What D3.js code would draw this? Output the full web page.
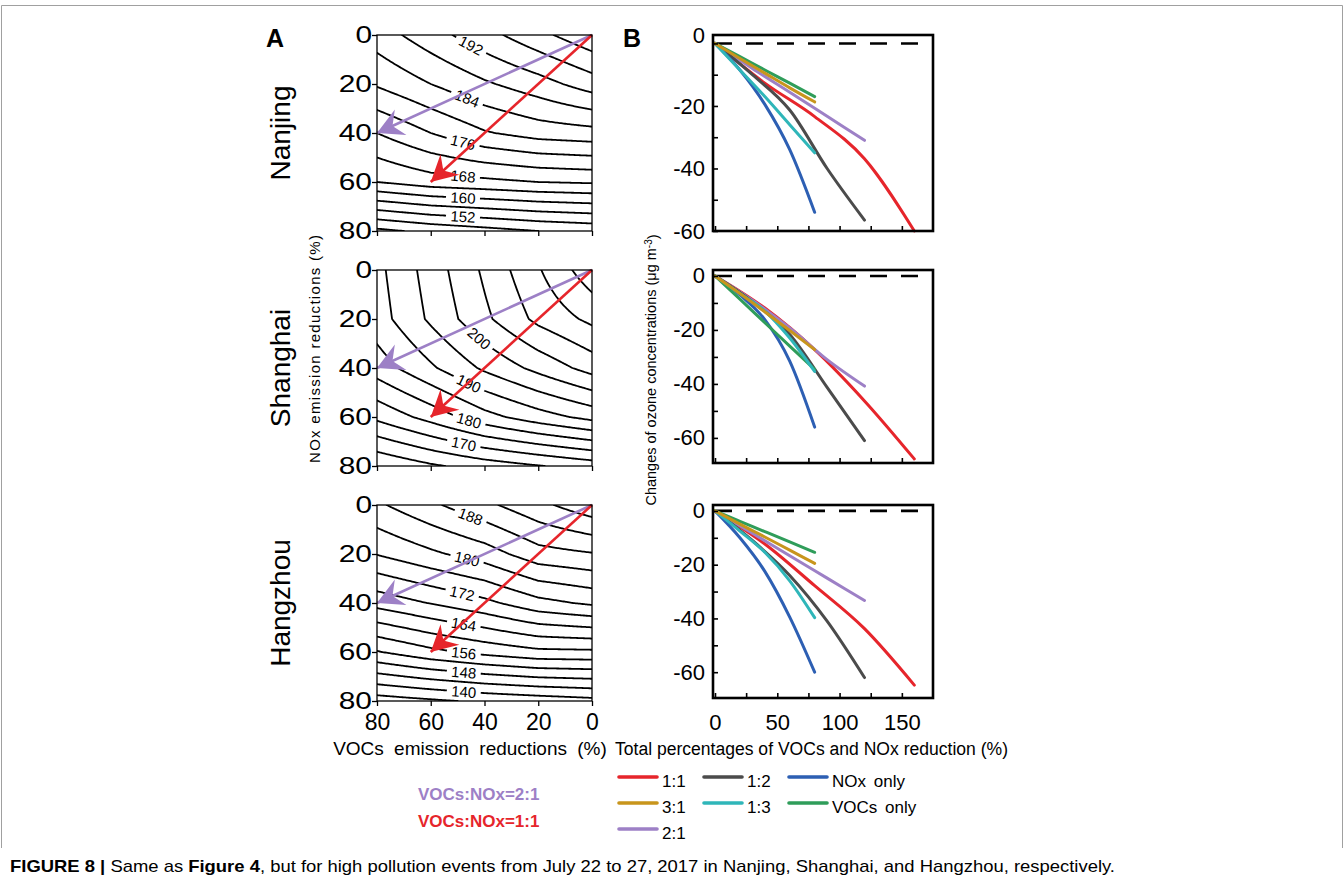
<!DOCTYPE html>
<html>
<head>
<meta charset="utf-8">
<script src="https://cdn.jsdelivr.net/npm/d3@7"></script>
<style>
  body { margin: 0; background: #fff; }
  svg { font-family: "Liberation Sans", Arial, Helvetica, sans-serif; }
</style>
</head>
<body>
<svg id="fig" width="1344" height="895"></svg>
<script>
// ---------------- data ----------------
var vocSteps = [0, 20, 40, 60, 80];   // VOCs emission reduction (%), columns
var noxSteps = [0, 20, 40, 60, 80];   // NOx emission reduction (%), rows
var cities = ["Nanjing", "Shanghai", "Hangzhou"];

// simulated ozone (ug m-3), rows = NOx reduction, cols = VOCs reduction
var nanjingO3 = [
  [203.0, 198.8, 194.5, 190.3, 186.0],
  [194.0, 190.3, 187.4, 184.0, 180.5],
  [182.5, 181.7, 179.6, 176.0, 172.0],
  [168.5, 168.0, 167.0, 166.1, 164.0],
  [149.0, 148.0, 146.5, 145.0, 143.0]
];
var shanghaiO3 = [
  [223.2, 214.5, 205.9, 197.2, 188.6],
  [216.2, 211.3, 203.9, 195.9, 187.7],
  [207.0, 201.5, 195.9, 189.2, 182.4],
  [191.6, 187.8, 183.2, 176.9, 171.2],
  [167.2, 164.7, 162.2, 159.2, 155.4]
];
var hangzhouO3 = [
  [198.7, 194.9, 191.0, 187.2, 183.3],
  [187.7, 186.4, 182.0, 179.2, 176.2],
  [176.7, 174.7, 170.9, 168.2, 165.4],
  [159.2, 159.0, 157.2, 154.9, 151.7],
  [138.7, 137.7, 136.7, 135.3, 133.9]
];

var nanjingLevels = [144, 148, 152, 156, 160, 164, 168, 172, 176, 180, 184, 188, 192, 196, 200];
var shanghaiLevels = [160, 165, 170, 175, 180, 185, 190, 195, 200, 205, 210, 215, 220];
var hangzhouLevels = [136, 140, 144, 148, 152, 156, 160, 164, 168, 172, 176, 180, 184, 188, 192, 196];

var nanjingLabels = [192, 184, 176, 168, 160, 152];
var nanjingLabelVoc = [45, 46.5, 48, 48, 48, 48];
var shanghaiLabels = [200, 190, 180, 170];
var shanghaiLabelVoc = [42, 45.8, 45.8, 47.7];
var hangzhouLabels = [188, 180, 172, 164, 156, 148, 140];
var hangzhouLabelVoc = [45.2, 46.5, 48.3, 47.7, 47.7, 47.7, 47.7];

// reduction paths drawn on panel A: [VOCs %, NOx %]
var arrowNames = ["VOCs:NOx=2:1", "VOCs:NOx=1:1"];
var arrowEnds = [[80, 40], [60, 60]];
var arrowColors = ["#9d80c6", "#e6252b"];

// panel B: change of ozone vs total reduction percentage
var ratioNames = ["1:1", "3:1", "2:1", "1:2", "1:3", "NOx only", "VOCs only"];
var ratioColors = ["#e6252b", "#c8951c", "#9d80c6", "#4b4b4b", "#2fb6b9", "#2d5fb3", "#2f9d5a"];
var ratioTotals = [
  [0, 40, 80, 120, 160],
  [0, 20, 40, 60, 80],
  [0, 30, 60, 90, 120],
  [0, 30, 60, 90, 120],
  [0, 20, 40, 60, 80],
  [0, 20, 40, 60, 80],
  [0, 20, 40, 60, 80]
];
var nanjingChange = [
  [0, -12.7, -23.4, -36.9, -60],
  [0, -4.8, -9.5, -14.2, -18.7],
  [0, -8, -15.6, -23.3, -31],
  [0, -10, -21.3, -40, -56.5],
  [0, -8.5, -17, -26, -35],
  [0, -8.5, -19.5, -34, -54],
  [0, -4.2, -8.5, -12.7, -17]
];
var shanghaiChange = [
  [0, -11.9, -27.3, -46.3, -67.8],
  [0, -6.5, -13.3, -20.2, -27.3],
  [0, -9, -19.3, -31, -40.8],
  [0, -9.5, -21.7, -41.3, -61],
  [0, -6.5, -13, -23, -35.4],
  [0, -7, -16.2, -31.6, -56],
  [0, -8.6, -17.3, -26, -34.6]
];
var hangzhouChange = [
  [0, -12.3, -27.8, -43.8, -64.8],
  [0, -4.9, -9.7, -14.6, -19.5],
  [0, -8.3, -16.7, -25, -33.3],
  [0, -11, -24, -41, -62],
  [0, -7.5, -15.4, -26, -39.7],
  [0, -10, -22.5, -39.5, -60],
  [0, -3.85, -7.7, -11.55, -15.4]
];

var panelATicks = [0, 20, 40, 60, 80];
var panelBYTicks = [0, -10, -20, -30, -40, -50, -60];
var panelBXTicks = [0, 25, 50, 75, 100, 125, 150];

// ---------------- layout ----------------
var svg = d3.select('#fig');
var defs = svg.append('defs');
svg.append('rect').attr('width', 1344).attr('height', 895).attr('fill', '#fff');

// figure frame
svg.append('path')
   .attr('d', 'M1.5,848 V5.5 H1342.5 V848')
   .attr('fill', 'none').attr('stroke', '#a0a0a0').attr('stroke-width', 1);

var rowTop = [35, 270, 505];
var rowBottomA = [231, 466, 701];
var rowBottomB = [231, 463, 698];
var yDomainB = [[2.7, -60], [2.2, -69.3], [2.2, -69.6]];
var grids = [nanjingO3, shanghaiO3, hangzhouO3];
var levelSets = [nanjingLevels, shanghaiLevels, hangzhouLevels];
var labelSets = [nanjingLabels, shanghaiLabels, hangzhouLabels];
var labelVocSets = [nanjingLabelVoc, shanghaiLabelVoc, hangzhouLabelVoc];
var changeSets = [nanjingChange, shanghaiChange, hangzhouChange];

var xA = d3.scaleLinear().domain([80, 0]).range([377, 592]);
var xB = d3.scaleLinear().domain([-1.6, 175]).range([713, 933]);

// bilinear lookup in the 20% grid
function field(grid, v, n) {
  var fi = Math.max(0, Math.min(80, v)) / 20, fj = Math.max(0, Math.min(80, n)) / 20;
  var i = Math.min(3, Math.floor(fi)), j = Math.min(3, Math.floor(fj));
  var tx = fi - i, ty = fj - j;
  return grid[j][i] * (1 - tx) * (1 - ty) + grid[j][i + 1] * tx * (1 - ty) +
         grid[j + 1][i] * (1 - tx) * ty + grid[j + 1][i + 1] * tx * ty;
}

// arrow heads
arrowColors.forEach(function(c, k) {
  defs.append('marker')
      .attr('id', 'head' + k)
      .attr('markerUnits', 'userSpaceOnUse')
      .attr('viewBox', '-28 -15 30 30')
      .attr('refX', 0).attr('refY', 0)
      .attr('markerWidth', 30).attr('markerHeight', 30)
      .attr('orient', 'auto')
      .append('path')
      .attr('d', 'M0,0 L-26,-14 L-17,0 L-26,14 Z')
      .attr('fill', c);
});

var step = 0.5, start = -2, size = Math.round(84 / step) + 1;

cities.forEach(function(city, r) {
  var grid = grids[r];
  var yA = d3.scaleLinear().domain([0, 80]).range([rowTop[r], rowBottomA[r]]);

  // ---------- panel A: contours ----------
  defs.append('clipPath').attr('id', 'clipA' + r)
      .append('rect')
      .attr('x', xA(80)).attr('y', yA(0))
      .attr('width', xA(0) - xA(80)).attr('height', yA(80) - yA(0));

  var values = new Array(size * size);
  for (var j = 0; j < size; j++) {
    for (var i = 0; i < size; i++) {
      values[j * size + i] = field(grid, start + i * step, start + j * step);
    }
  }
  var contours = d3.contours().size([size, size]).thresholds(levelSets[r])(values);
  var proj = d3.geoTransform({
    point: function(cx, cy) {
      this.stream.point(xA(start + (cx - 0.5) * step), yA(start + (cy - 0.5) * step));
    }
  });
  var geoPath = d3.geoPath(proj);

  var layer = svg.append('g').attr('clip-path', 'url(#clipA' + r + ')');
  layer.selectAll('.contour')
       .data(contours)
       .join('path')
       .classed('contour', true)
       .attr('d', geoPath)
       .attr('fill', 'none')
       .attr('stroke', '#000')
       .attr('stroke-width', 1.8)
       .attr('stroke-linejoin', 'round');

  // contour labels
  labelSets[r].forEach(function(level, k) {
    var v = labelVocSets[r][k];
    var n = 0;
    for (var t = 0; t <= 80; t += 0.05) {
      if (field(grid, v, t) <= level) { n = t; break; }
    }
    var gv = field(grid, v + 0.5, n) - field(grid, v - 0.5, n);
    var gn = field(grid, v, n + 0.5) - field(grid, v, n - 0.5);
    var gx = gv / (xA(1) - xA(0)), gy = gn / (yA(1) - yA(0));
    var tx = -gy, ty = gx;
    if (tx < 0) { tx = -tx; ty = -ty; }
    var ang = Math.atan2(ty, tx) * 180 / Math.PI;
    var g = layer.append('g')
                 .attr('transform', 'translate(' + xA(v) + ',' + yA(n) + ') rotate(' + ang + ')');
    g.append('rect').attr('x', -17).attr('y', -8).attr('width', 34).attr('height', 16).attr('fill', '#fff');
    g.append('text')
     .attr('text-anchor', 'middle').attr('dy', '0.36em')
     .style('font-size', '15px')
     .text(level);
  });

  // reduction arrows
  arrowEnds.forEach(function(e, k) {
    svg.append('line')
       .attr('x1', xA(0)).attr('y1', yA(0))
       .attr('x2', xA(e[0])).attr('y2', yA(e[1]))
       .attr('stroke', arrowColors[k])
       .attr('stroke-width', 2.6)
       .attr('marker-end', 'url(#head' + k + ')');
  });

  // frame + axes
  svg.append('rect')
     .attr('x', xA(80)).attr('y', yA(0))
     .attr('width', xA(0) - xA(80)).attr('height', yA(80) - yA(0))
     .attr('fill', 'none').attr('stroke', '#000').attr('stroke-width', 1.3);

  var axL = svg.append('g').attr('transform', 'translate(' + xA(80) + ',0)')
               .call(d3.axisLeft(yA).tickValues(panelATicks).tickSize(5).tickPadding(0));
  axL.select('.domain').remove();
  axL.selectAll('line').attr('stroke-width', 1.3);
  axL.selectAll('text')
     .attr('x', 0)
     .attr('transform', 'translate(-5,0) scale(1.3,1)')
     .style('font-size', '23px').attr('fill', '#000');

  var axBot = svg.append('g').attr('transform', 'translate(0,' + yA(80) + ')')
                 .call(d3.axisBottom(xA).tickValues(panelATicks).tickSize(5).tickPadding(8));
  axBot.select('.domain').remove();
  axBot.selectAll('line').attr('stroke-width', 1.3);
  axBot.selectAll('text').style('font-size', '23px').attr('fill', '#000');
  if (r < 2) axBot.selectAll('text').remove();

  // city name
  svg.append('text')
     .attr('transform', 'translate(290,' + ((rowTop[r] + rowBottomA[r]) / 2) + ') rotate(-90)')
     .attr('text-anchor', 'middle')
     .style('font-size', '28px')
     .text(city);

  // ---------- panel B: ozone changes ----------
  var yB = d3.scaleLinear().domain(yDomainB[r]).range([rowTop[r], rowBottomB[r]]);

  svg.append('line')
     .attr('x1', xB(0)).attr('x2', xB(175))
     .attr('y1', yB(0)).attr('y2', yB(0))
     .attr('stroke', '#000').attr('stroke-width', 2.6)
     .attr('stroke-dasharray', '17,14');

  var lineGen = d3.line().curve(d3.curveMonotoneX)
                  .x(function(d) { return xB(d[0]); })
                  .y(function(d) { return yB(d[1]); });
  var order = [0, 2, 3, 5, 6, 4, 1];
  order.forEach(function(s) {
    var pts = ratioTotals[s].map(function(x, k) { return [x, changeSets[r][s][k]]; });
    svg.append('path')
       .attr('d', lineGen(pts))
       .attr('fill', 'none')
       .attr('stroke', ratioColors[s])
       .attr('stroke-width', 3)
       .attr('stroke-linecap', 'round');
  });

  var ayB = svg.append('g').attr('transform', 'translate(' + xB.range()[0] + ',0)')
               .call(d3.axisLeft(yB).tickValues(panelBYTicks).tickSize(-5).tickPadding(8)
                       .tickFormat(function(d) { return d % 20 === 0 ? d : ''; }));
  ayB.select('.domain').remove();
  ayB.selectAll('line').attr('stroke-width', 1.6);
  ayB.selectAll('text').style('font-size', '22px').attr('fill', '#000');
  if (r === 0) ayB.selectAll('text').filter(function(d) { return d === 0; }).attr('dy', '-0.05em');

  var axB = svg.append('g').attr('transform', 'translate(0,' + rowBottomB[r] + ')')
               .call(d3.axisBottom(xB).tickValues(panelBXTicks).tickSize(-5).tickPadding(16)
                       .tickFormat(function(d) { return d % 50 === 0 ? d : ''; }));
  axB.select('.domain').remove();
  axB.selectAll('line').attr('stroke-width', 1.6);
  axB.selectAll('text').style('font-size', '22px').attr('fill', '#000');
  if (r < 2) axB.selectAll('text').remove();

  svg.append('rect')
     .attr('x', xB.range()[0]).attr('y', rowTop[r])
     .attr('width', xB.range()[1] - xB.range()[0]).attr('height', rowBottomB[r] - rowTop[r])
     .attr('fill', 'none').attr('stroke', '#000').attr('stroke-width', 2.6);
});

// ---------------- titles and labels ----------------
svg.append('text').attr('x', 266).attr('y', 47)
   .style('font-size', '25px').style('font-weight', 'bold').text('A');
svg.append('text').attr('x', 623).attr('y', 47)
   .style('font-size', '25px').style('font-weight', 'bold').text('B');

svg.append('text')
   .attr('transform', 'translate(320,349) rotate(-90)')
   .attr('text-anchor', 'middle')
   .attr('textLength', 228).attr('lengthAdjust', 'spacing')
   .style('font-size', '15px')
   .text('NOx emission reductions (%)');

var yLabB = svg.append('text')
   .attr('transform', 'translate(656,370) rotate(-90)')
   .attr('text-anchor', 'middle')
   .style('font-size', '14.5px');
yLabB.append('tspan').text('Changes of ozone concentrations (\u03bcg m');
yLabB.append('tspan').attr('dy', '-0.45em').style('font-size', '10px').text('-3');
yLabB.append('tspan').attr('dy', '0.45em').text(')');

svg.append('text').attr('x', 470).attr('y', 755)
   .attr('text-anchor', 'middle')
   .style('font-size', '19px').style('word-spacing', '5px')
   .text('VOCs emission reductions (%)');
svg.append('text').attr('x', 615).attr('y', 755)
   .attr('textLength', 393).attr('lengthAdjust', 'spacingAndGlyphs')
   .style('font-size', '18px')
   .text('Total percentages of VOCs and NOx reduction (%)');

// arrow legend
arrowNames.forEach(function(name, k) {
  svg.append('text').attr('x', 418).attr('y', 800 + k * 27)
     .attr('fill', arrowColors[k])
     .style('font-size', '17px').style('font-weight', 'bold')
     .text(name);
});

// line legend
var legCol = [0, 0, 0, 1, 1, 2, 2], legRow = [0, 1, 2, 0, 1, 0, 1];
var colX = [619, 704, 789], rowY = [777, 803, 829];
ratioNames.forEach(function(name, s) {
  var x0 = colX[legCol[s]], y0 = rowY[legRow[s]];
  svg.append('line').attr('x1', x0).attr('x2', x0 + 38).attr('y1', y0).attr('y2', y0)
     .attr('stroke', ratioColors[s]).attr('stroke-width', 3.6).attr('stroke-linecap', 'round');
  svg.append('text').attr('x', x0 + 43).attr('y', y0 + 10)
     .style('font-size', '17px').style('word-spacing', '3px')
     .text(name);
});

// caption
var cap = svg.append('text').attr('x', 10).attr('y', 872)
             .attr('textLength', 1105).attr('lengthAdjust', 'spacingAndGlyphs')
             .style('font-size', '17px');
cap.append('tspan').style('font-weight', 'bold').text('FIGURE 8 | ');
cap.append('tspan').text('Same as ');
cap.append('tspan').style('font-weight', 'bold').text('Figure 4');
cap.append('tspan').text(', but for high pollution events from July 22 to 27, 2017 in Nanjing, Shanghai, and Hangzhou, respectively.');
</script>
</body>
</html>
